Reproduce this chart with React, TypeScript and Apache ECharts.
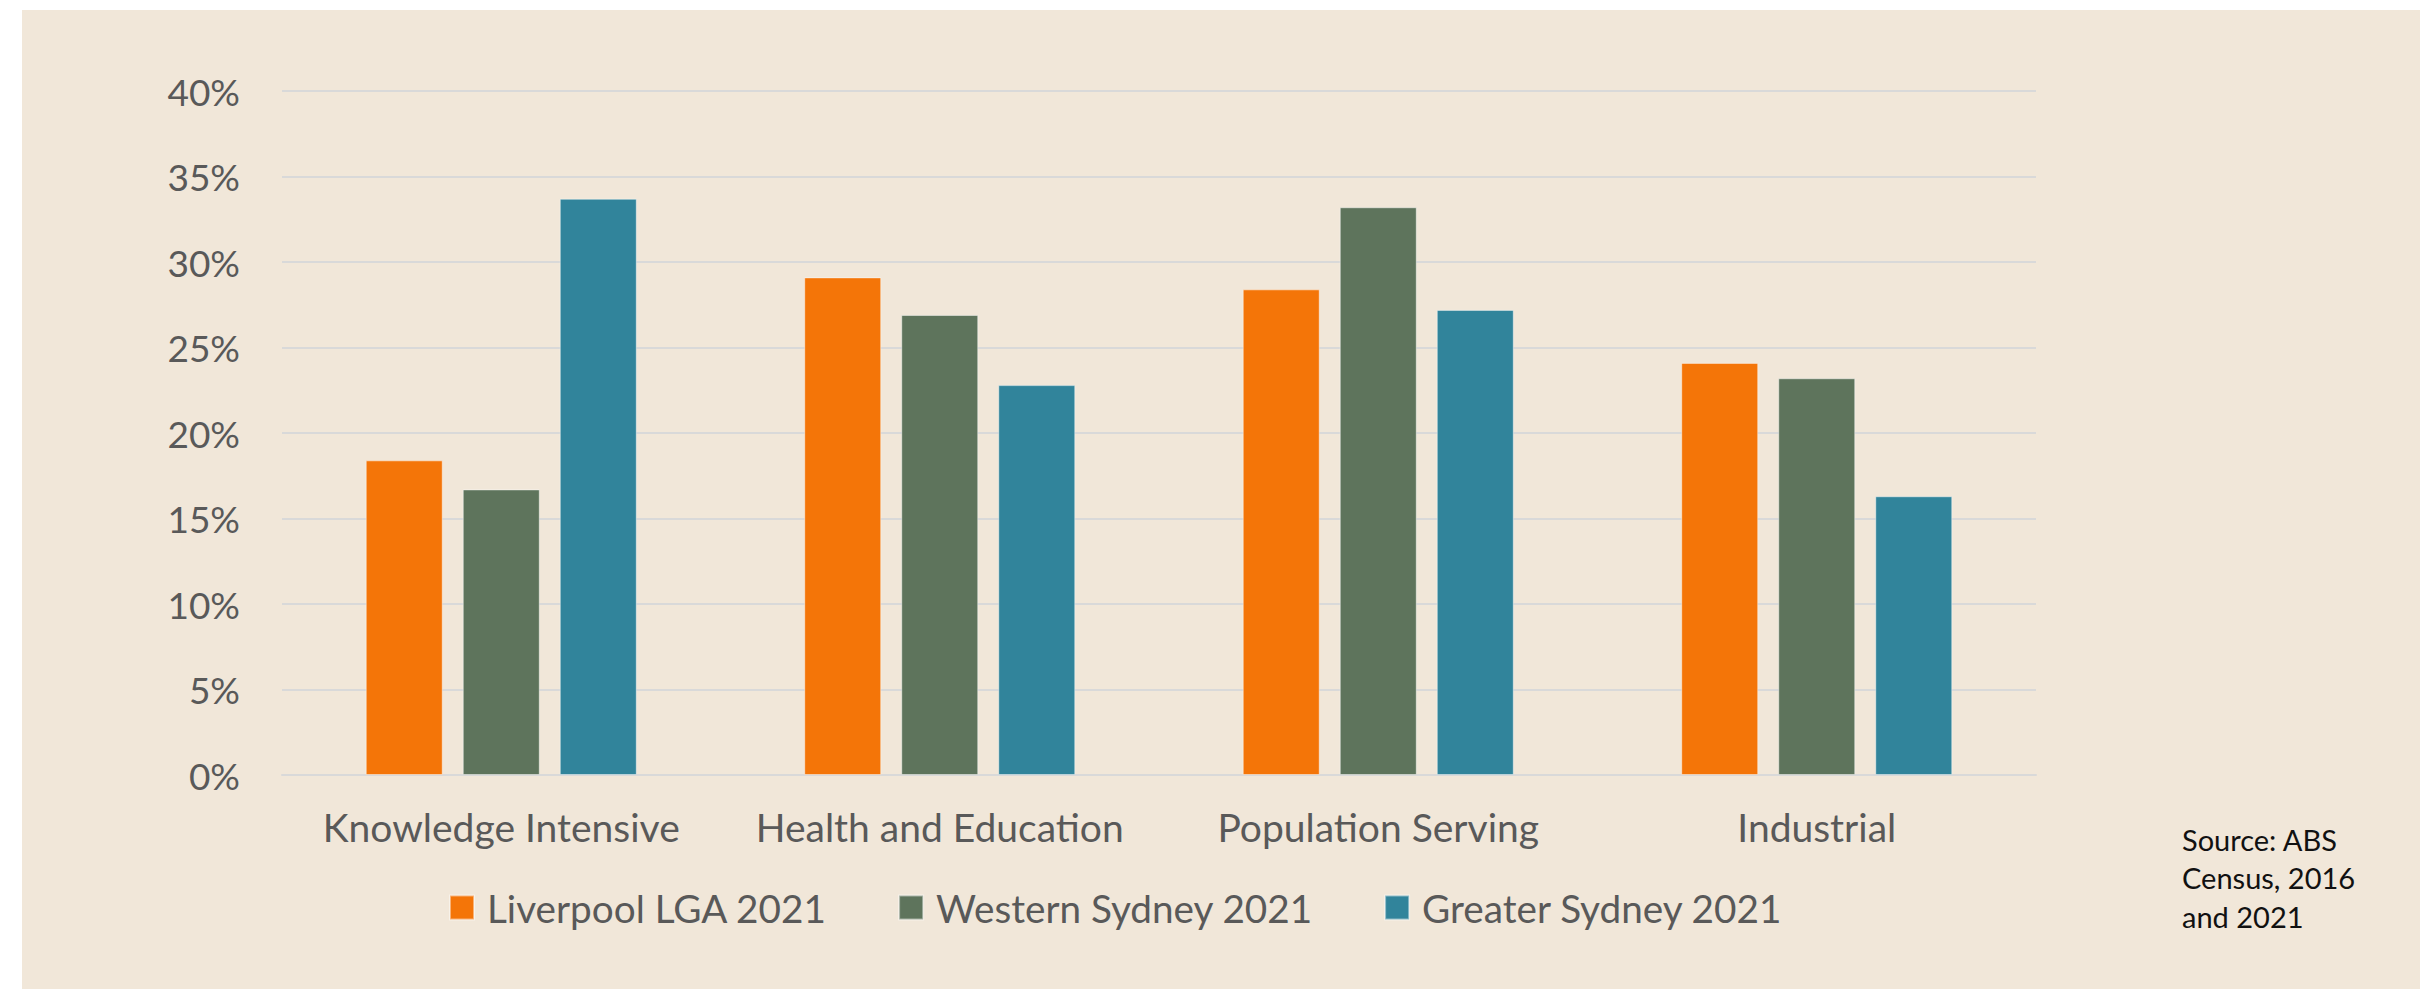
import React, { useEffect, useRef } from "react";
import * as echarts from "echarts";

const categories = ["Knowledge Intensive", "Health and Education", "Population Serving", "Industrial"];
const seriesNames = ["Liverpool LGA 2021", "Western Sydney 2021", "Greater Sydney 2021"];
const liverpool = [18.4, 29.1, 28.4, 24.1];
const westernSydney = [16.7, 26.9, 33.2, 23.2];
const greaterSydney = [33.7, 22.8, 27.2, 16.3];
const seriesValues = [liverpool, westernSydney, greaterSydney];
const seriesColors = ["#F47508", "#5E745C", "#31849B"];
const yMin = 0;
const yMax = 40;
const yInterval = 5;
const sourceLines = ["Source: ABS", "Census, 2016", "and 2021"];

const FONT = "Lato, 'Noto Sans', sans-serif";
const TEXT = "#595959";

export default function App() {
  const ref = useRef<HTMLDivElement>(null);
  useEffect(() => {
    document.body.style.margin = "0";
    const chart = echarts.init(ref.current!, null, { renderer: "svg" });
    chart.setOption({
      animation: false,
      backgroundColor: "#FFFFFF",
      textStyle: { fontFamily: FONT },
      graphic: [
        {
          type: "rect",
          z: -10,
          silent: true,
          shape: { x: 22, y: 10, width: 2420 - 22, height: 989 - 10 },
          style: { fill: "#F1E7D9" },
        },
        {
          type: "text",
          left: 2182,
          top: 820,
          style: {
            text: sourceLines.join("\n"),
            fontFamily: FONT,
            fontSize: 29,
            lineHeight: 38.5,
            fill: "#111111",
          },
        },
      ],
      grid: { left: 282, right: 384, top: 91, bottom: 214, containLabel: false },
      legend: {
        left: 444,
        top: 883,
        itemWidth: 24,
        itemHeight: 24,
        itemGap: 71,
        icon: "rect",
        textStyle: { fontFamily: FONT, fontSize: 38.7, color: TEXT, padding: [0, 0, 0, 8] },
        data: seriesNames,
      },
      xAxis: {
        type: "category",
        data: categories,
        axisLine: { show: true, lineStyle: { color: "#D9D9D9", width: 2 } },
        axisTick: { show: false },
        axisLabel: { fontFamily: FONT, fontSize: 39, color: TEXT, margin: 32, interval: 0 },
      },
      yAxis: {
        type: "value",
        min: yMin,
        max: yMax,
        interval: yInterval,
        axisLine: { show: false },
        axisTick: { show: false },
        splitLine: { lineStyle: { color: "#D9D9D9", width: 2 } },
        axisLabel: {
          fontFamily: FONT,
          fontSize: 37,
          color: TEXT,
          margin: 42,
          formatter: "{value}%",
        },
      },
      series: seriesNames.map((name, i) => ({
        name,
        type: "bar",
        data: seriesValues[i],
        barWidth: 77,
        barGap: "26%",
        itemStyle: {
          color: seriesColors[i],
          borderColor: "rgba(255,255,255,0.45)",
          borderWidth: 1,
        },
      })),
    });
    return () => chart.dispose();
  }, []);
  return <div ref={ref} style={{ width: 2420, height: 989 }} />;
}
